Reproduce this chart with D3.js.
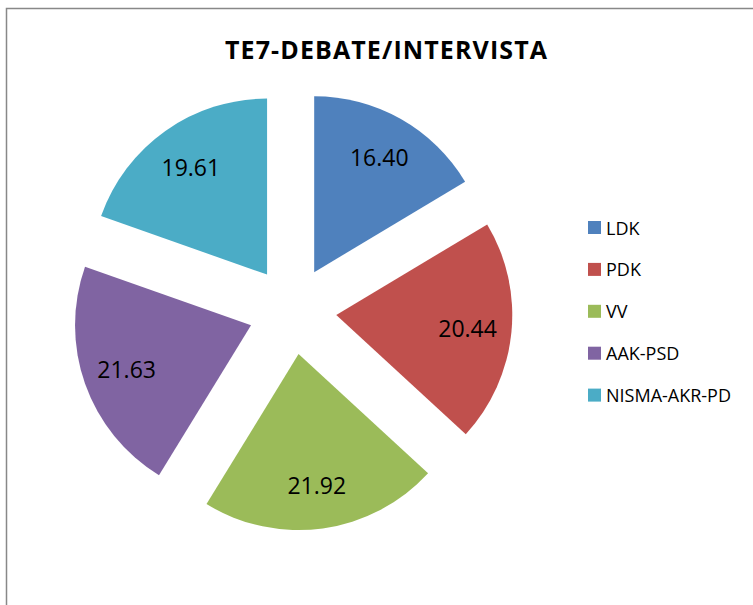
<!DOCTYPE html>
<html><head><meta charset="utf-8">
<script src="https://cdn.jsdelivr.net/npm/d3@7"></script>
<style>body{margin:0;background:#fff}svg{display:block}</style>
</head><body>
<script>
const categories = ["LDK","PDK","VV","AAK-PSD","NISMA-AKR-PD"];
const values = [16.40, 20.44, 21.92, 21.63, 19.61];
const labels = ["16.40","20.44","21.92","21.63","19.61"];
const colors = ["#4F81BD","#C0504D","#9BBB59","#8064A2","#4BACC6"];
const title = "TE7-DEBATE/INTERVISTA";

const W = 753, H = 605;
const svg = d3.select("body").append("svg").attr("width", W).attr("height", H);

// frame (cropped)
svg.append("rect").attr("x", 6.5).attr("y", 8.5).attr("width", 900).attr("height", 800)
  .attr("fill", "none").attr("stroke", "#888").attr("stroke-width", 1.5);

svg.append("text").attr("x", 386).attr("y", 58.5).attr("text-anchor", "middle")
  .attr("font-family", "'Open Sans', sans-serif").attr("font-weight", "bold")
  .attr("font-size", 25).attr("textLength", 322).attr("lengthAdjust", "spacing")
  .attr("fill", "#000").text(title);

const cx = 292.5, cy = 310.5, R = 176, explode = 44, labelR = 132;
const data = categories.map((c, i) => ({name: c, value: values[i], label: labels[i], color: colors[i]}));
const pie = d3.pie().sort(null).value(d => d.value).startAngle(0).endAngle(2 * Math.PI);
const arc = d3.arc().innerRadius(0).outerRadius(R);
const arcs = pie(data);

const g = svg.append("g").attr("transform", `translate(${cx},${cy})`);
const slice = g.selectAll("g.slice").data(arcs).join("g").attr("class", "slice")
  .attr("transform", d => {
    const m = (d.startAngle + d.endAngle) / 2;
    return `translate(${explode * Math.sin(m)},${-explode * Math.cos(m)})`;
  });
slice.append("path").attr("d", arc).attr("fill", d => d.data.color);
slice.append("text")
  .attr("x", d => labelR * Math.sin((d.startAngle + d.endAngle) / 2))
  .attr("y", d => -labelR * Math.cos((d.startAngle + d.endAngle) / 2))
  .attr("text-anchor", "middle").attr("dominant-baseline", "central")
  .attr("font-family", "'Open Sans', sans-serif").attr("font-size", 23).attr("fill", "#000")
  .text(d => d.data.label);

const leg = svg.append("g").attr("transform", "translate(588,227.5)");
const items = leg.selectAll("g").data(data).join("g").attr("transform", (d, i) => `translate(0,${i * 41.9})`);
items.append("rect").attr("x", 0).attr("y", -6.5).attr("width", 13).attr("height", 13).attr("fill", d => d.color);
items.append("text").attr("x", 18).attr("y", 0).attr("dominant-baseline", "central")
  .attr("font-family", "'Open Sans', sans-serif").attr("font-size", 18).attr("fill", "#000")
  .text(d => d.name);
</script>
</body></html>
